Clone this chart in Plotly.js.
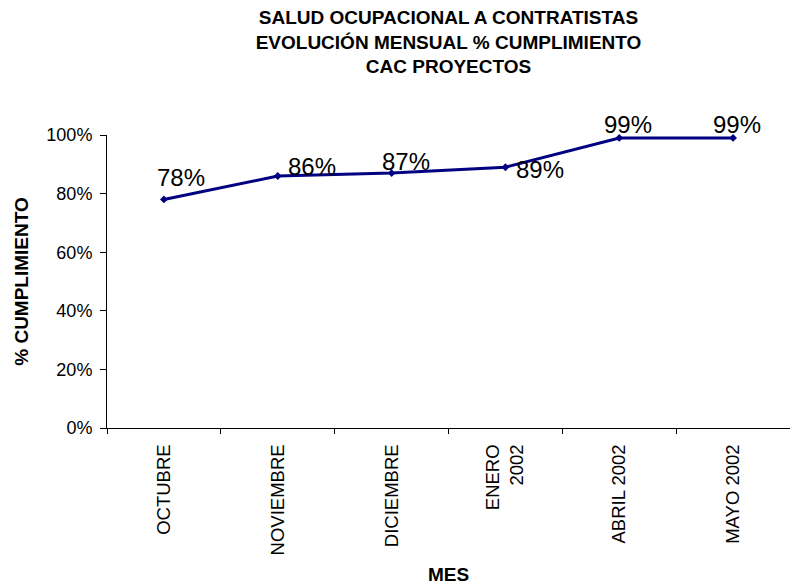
<!DOCTYPE html>
<html>
<head>
<meta charset="utf-8">
<script src="https://cdn.plot.ly/plotly-3.0.1.min.js"></script>
<style>html,body{margin:0;padding:0;background:#fff;}#chart{width:790px;height:587px;}</style>
</head>
<body>
<div id="chart"></div>
<script>
const months = ["OCTUBRE", "NOVIEMBRE", "DICIEMBRE", "ENERO<br>2002", "ABRIL 2002", "MAYO 2002"];
const cumplimiento = [0.78, 0.86, 0.87, 0.89, 0.99, 0.99];
const valueLabels = ["78%", "86%", "87%", "89%", "99%", "99%"];
const yTickVals = [0, 0.2, 0.4, 0.6, 0.8, 1.0];
const yTickText = ["0%", "20%", "40%", "60%", "80%", "100%"];
// label placement offsets (px) relative to each point
const labelDx = [17, 34, 14, 35, 9, 4];
const labelDy = [22, 10, 12, -2, 13, 13];

const font = "Arial, 'Liberation Sans', sans-serif";

const trace = {
  type: "scatter",
  mode: "lines+markers",
  x: months,
  y: cumplimiento,
  line: {color: "#000080", width: 3},
  marker: {symbol: "diamond", size: 6, color: "#000080"},
  cliponaxis: false,
  hoverinfo: "skip"
};

const annotations = months.map((m, i) => ({
  x: m, y: cumplimiento[i], xref: "x", yref: "y",
  text: valueLabels[i], showarrow: false,
  xshift: labelDx[i], yshift: labelDy[i],
  font: {family: font, size: 24, color: "#000"}
}));

const layout = {
  width: 790, height: 587,
  margin: {l: 107, r: 0, t: 135, b: 159},
  paper_bgcolor: "#fff", plot_bgcolor: "#fff",
  showlegend: false,
  font: {family: font, color: "#000"},
  title: {
    text: "<b>SALUD OCUPACIONAL A CONTRATISTAS<br>EVOLUCIÓN MENSUAL % CUMPLIMIENTO<br>CAC PROYECTOS</b>",
    font: {family: font, size: 19, color: "#000"},
    xref: "paper", x: 0.5, xanchor: "center",
    yref: "container", y: 1 - 24/587, yanchor: "middle"
  },
  xaxis: {
    type: "category",
    showline: true, linecolor: "#000", linewidth: 1,
    ticks: "outside", ticklen: 5, tickcolor: "#000", tickson: "boundaries",
    tickangle: -90, ticklabelstandoff: 8,
    tickfont: {family: font, size: 18.5, color: "#000"},
    showgrid: false, zeroline: false,
    range: [-0.5, 5.5],
    title: {text: "<b>MES</b>", font: {family: font, size: 19, color: "#000"}, standoff: 13}
  },
  yaxis: {
    range: [0, 1],
    tickvals: yTickVals, ticktext: yTickText,
    showline: true, linecolor: "#000", linewidth: 1,
    ticks: "outside", ticklen: 6, tickcolor: "#000", ticklabelstandoff: 4,
    tickfont: {family: font, size: 18, color: "#000"},
    showgrid: false, zeroline: false,
    title: {text: "<b>% CUMPLIMIENTO</b>", font: {family: font, size: 19, color: "#000"}, standoff: 12}
  },
  annotations: annotations
};

Plotly.newPlot("chart", [trace], layout, {displayModeBar: false, staticPlot: true});
</script>
</body>
</html>
